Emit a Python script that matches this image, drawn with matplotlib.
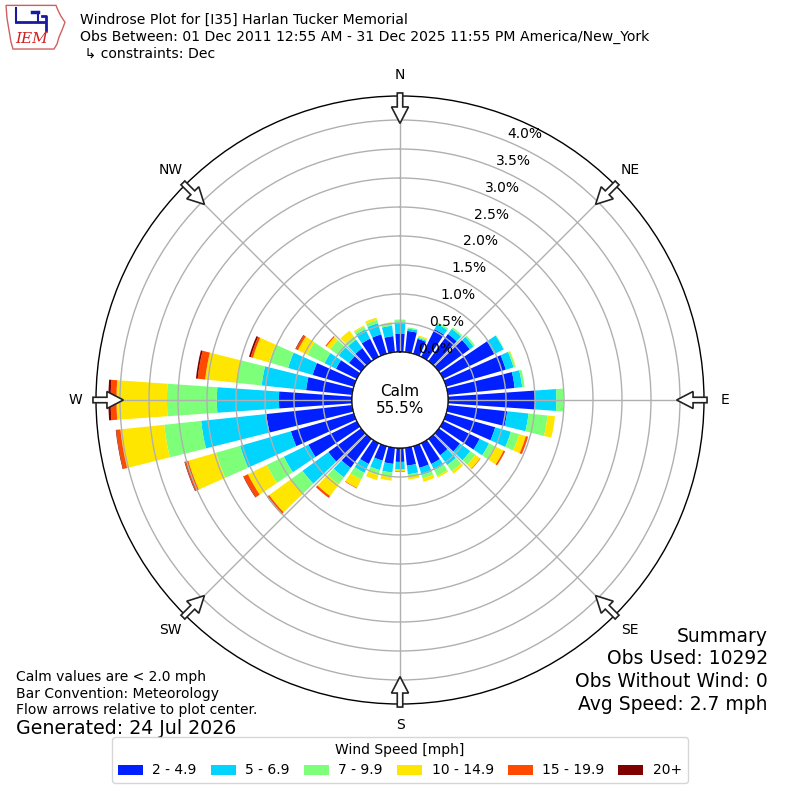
import numpy as np
import matplotlib
matplotlib.use("Agg")
import matplotlib.pyplot as plt
from matplotlib.patches import Circle, FancyArrow, Patch, Polygon

# wind direction (deg, where wind blows from) and frequency (%) per speed bin
directions = np.arange(0, 360, 10)
speed_labels = ["2 - 4.9", "5 - 6.9", "7 - 9.9", "10 - 14.9", "15 - 19.9", "20+"]
speed_colors = ["#0020ff", "#00d4ff", "#7dff7a", "#ffe600", "#ff4a00", "#800000"]

freq_2_5 = [0.32, 0.37, 0.27, 0.53, 0.58, 0.66, 0.98, 1.07, 1.16, 1.50, 1.03, 0.88,
            0.70, 0.45, 0.35, 0.40, 0.39, 0.31, 0.24, 0.28, 0.26, 0.40, 0.62, 0.70,
            0.93, 1.13, 1.49, 1.26, 0.80, 0.74, 0.40, 0.26, 0.28, 0.35, 0.35, 0.28]
freq_5_7 = [0.19, 0.04, 0.02, 0.10, 0.11, 0.08, 0.18, 0.14, 0.13, 0.37, 0.37, 0.28,
            0.18, 0.22, 0.21, 0.12, 0.13, 0.15, 0.13, 0.15, 0.17, 0.17, 0.20, 0.55,
            0.47, 0.91, 1.13, 1.07, 0.77, 0.44, 0.22, 0.22, 0.18, 0.18, 0.20, 0.18]
freq_7_10 = [0.05, 0.02, 0.02, 0.03, 0.03, 0.03, 0.01, 0.03, 0.04, 0.12, 0.33, 0.15,
             0.11, 0.11, 0.13, 0.11, 0.06, 0.04, 0.01, 0.08, 0.09, 0.13, 0.15, 0.25,
             0.33, 0.43, 0.64, 0.86, 0.43, 0.34, 0.33, 0.18, 0.07, 0.05, 0.06, 0.05]
freq_10_15 = [0.00, 0.00, 0.02, 0.00, 0.00, 0.00, 0.00, 0.01, 0.00, 0.00, 0.13, 0.12,
              0.17, 0.10, 0.05, 0.03, 0.06, 0.05, 0.02, 0.06, 0.09, 0.16, 0.25, 0.46,
              0.36, 0.50, 0.76, 0.87, 0.55, 0.29, 0.18, 0.08, 0.12, 0.02, 0.04, 0.01]
freq_15_20 = [0.00, 0.00, 0.00, 0.00, 0.00, 0.00, 0.00, 0.00, 0.00, 0.00, 0.00, 0.04,
              0.03, 0.01, 0.00, 0.00, 0.00, 0.00, 0.01, 0.00, 0.00, 0.01, 0.04, 0.04,
              0.08, 0.06, 0.07, 0.10, 0.13, 0.04, 0.04, 0.02, 0.00, 0.00, 0.00, 0.00]
freq_20p = [0.00, 0.00, 0.00, 0.00, 0.00, 0.00, 0.00, 0.00, 0.00, 0.00, 0.00, 0.00,
            0.00, 0.00, 0.00, 0.00, 0.00, 0.00, 0.00, 0.00, 0.00, 0.00, 0.00, 0.01,
            0.01, 0.01, 0.01, 0.04, 0.03, 0.03, 0.01, 0.00, 0.00, 0.00, 0.00, 0.00]

calm_pct = 55.5
rticks = np.arange(0, 4.01, 0.5)
compass = ["N", "NE", "E", "SE", "S", "SW", "W", "NW"]

fig = plt.figure(figsize=(8, 8), dpi=100)
ax = fig.add_axes([0.12, 0.12, 0.76, 0.76], projection="polar")
ax.set_theta_zero_location("N")
ax.set_theta_direction(-1)

theta = np.deg2rad(directions)
width = np.deg2rad(8)
bottom = np.zeros(len(directions))
for vals, color in zip([freq_2_5, freq_5_7, freq_7_10, freq_10_15, freq_15_20, freq_20p],
                       speed_colors):
    vals = np.asarray(vals)
    ax.bar(theta, vals, width=width, bottom=bottom, color=color, edgecolor="none",
           zorder=1)
    bottom = bottom + vals

ax.set_rorigin(-0.8276)
ax.set_ylim(0, 4.414)
ax.set_yticks(rticks)
ax.set_yticklabels([f"{v:.1f}%" for v in rticks], fontsize=10)
ax.set_rlabel_position(22.5)
ax.set_xticks(np.deg2rad(np.arange(0, 360, 45)))
ax.set_xticklabels([])
ax.grid(True, color="#b0b0b0", lw=1)
ax.spines["polar"].set_color("black")
ax.spines["polar"].set_linewidth(1)

# calm circle
ax.add_patch(Circle((0.5, 0.5), 48 / 608, transform=ax.transAxes, facecolor="white",
                    edgecolor="black", lw=1, zorder=5))
ax.text(0.5, 0.5, f"Calm\n{calm_pct:.1f}%", transform=ax.transAxes, ha="center",
        va="center", fontsize=11, zorder=6)

# compass labels and flow arrows
for i, lab in enumerate(compass):
    a = np.deg2rad(i * 45)
    sx, sy = np.sin(a), np.cos(a)
    ax.text(0.5 + 0.5345 * sx, 0.5 + 0.5345 * sy, lab, transform=ax.transAxes,
            ha="center", va="center", fontsize=10)
    r0, r1 = 0.505, 0.455
    ax.add_patch(FancyArrow(0.5 + r0 * sx, 0.5 + r0 * sy, (r1 - r0) * sx, (r1 - r0) * sy,
                            width=0.009, head_width=0.028, head_length=0.027,
                            length_includes_head=True, transform=ax.transAxes,
                            facecolor="white", edgecolor="#222222", lw=1.2,
                            clip_on=False, zorder=7))

# header
fig.text(0.1, 0.975, "Windrose Plot for [I35] Harlan Tucker Memorial", fontsize=10.1,
         va="center")
fig.text(0.1, 0.954, "Obs Between: 01 Dec 2011 12:55 AM - 31 Dec 2025 11:55 PM "
         "America/New_York", fontsize=10.1, va="center")
fig.text(0.1, 0.933, " \u21b3 constraints: Dec", fontsize=10.1, va="center")

# logo
lax = fig.add_axes([0.005, 0.935, 0.08, 0.062])
lax.set_xlim(0, 64)
lax.set_ylim(0, 50)
lax.axis("off")
lax.add_patch(Polygon([(2, 47), (52, 47), (54, 42), (57, 36), (61, 30), (58, 22),
                       (55, 15), (53, 8), (50, 3), (9, 3), (7, 10), (5, 22), (3, 34)],
                      closed=True, fill=False, edgecolor="#d06060", lw=1))
lax.text(28, 13, "IEM", color="#d02020", fontsize=11, style="italic",
         family="DejaVu Serif", ha="center", va="center")
lax.plot([12, 40], [30, 30], color="#1a1aa0", lw=2)
lax.plot([12, 12], [30, 44], color="#1a1aa0", lw=1.5)
lax.plot([38, 42, 42], [36, 36, 22], color="#1a1aa0", lw=2)
lax.plot([28, 34], [40, 40], color="#1a1aa0", lw=2.5)
lax.plot([34, 34], [40, 30], color="#1a1aa0", lw=1.5)

# summary
for i, line in enumerate(["Summary", "Obs Used: 10292", "Obs Without Wind: 0",
                          "Avg Speed: 2.7 mph"]):
    fig.text(0.96, 0.205 - i * 0.0287, line, fontsize=13.5, ha="right", va="center")

for i, line in enumerate(["Calm values are < 2.0 mph", "Bar Convention: Meteorology",
                          "Flow arrows relative to plot center."]):
    fig.text(0.02, 0.154 - i * 0.021, line, fontsize=10, va="center")
fig.text(0.02, 0.089, "Generated: 24 Jul 2026", fontsize=13.7, va="center")

handles = [Patch(facecolor=c, edgecolor="none") for c in speed_colors]
fig.legend(handles, speed_labels, loc="lower center", bbox_to_anchor=(0.5, 0.0125),
           ncol=6, title="Wind Speed [mph]", fontsize=10, title_fontsize=10,
           handlelength=1.8, handletextpad=0.7, columnspacing=1.0)

fig.savefig("out.png", dpi=100)
